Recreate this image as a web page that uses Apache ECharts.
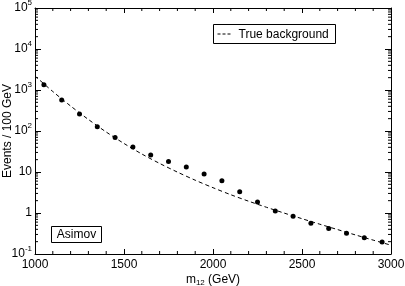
<!DOCTYPE html>
<html>
<head>
<meta charset="utf-8">
<script src="https://cdn.jsdelivr.net/npm/echarts@6/dist/echarts.min.js"></script>
<style>html,body{margin:0;padding:0;background:#fff}#c{width:405px;height:286px}</style>
</head>
<body>
<div id="c"></div>
<script>
// Asimov pseudo-data points (m12 bin centers, events / 100 GeV)
var pointMass = [1050,1150,1250,1350,1450,1550,1650,1750,1850,1950,2050,2150,2250,2350,2450,2550,2650,2750,2850,2950];
var pointEvents = [1350,570,260,127,69,41,26,18,13.2,8.9,6.1,3.3,1.85,1.12,0.83,0.56,0.42,0.32,0.25,0.196];
// True background curve
var bgMass = [1000,1100,1200,1300,1400,1500,1600,1700,1800,1900,2000,2100,2200,2300,2400,2500,2600,2700,2800,2900,3000];
var bgEvents = [2190,919,407,191,94.5,49.6,27.5,16.2,9.95,6.31,4.14,2.79,1.94,1.38,0.995,0.726,0.533,0.394,0.292,0.218,0.164];
// Y tick labels (exponent -> label)
var yTickExp = [-1,0,1,2,3,4,5];
var yTickLabels = ['{b|10}{s|-1}','{b|1}','{b|10}','{b|10}{s|2}','{b|10}{s|3}','{b|10}{s|4}','{b|10}{s|5}'];
var legendLabel = 'True background';
var boxLabel = 'Asimov';

var FONT = 'Liberation Sans, Arial, sans-serif';
var minorY = [];
for (var e = -1; e < 5; e++) for (var k = 2; k <= 9; k++) minorY.push([1000, k * Math.pow(10, e)]);
var minorX = [];
for (var m = 1100; m < 3000; m += 100) if (m % 500 !== 0) minorX.push([m, 1]);

var chart = echarts.init(document.getElementById('c'), null, {renderer: 'canvas'});
var xBase = {
  type: 'value', min: 1000, max: 3000, interval: 500,
  axisLine: {show: true, lineStyle: {color: '#000', width: 1}},
  axisTick: {show: true, inside: true, length: 5, lineStyle: {color: '#000'}},
  splitLine: {show: false}
};
var yBase = {
  type: 'log', logBase: 10, min: 0.1, max: 100000, splitNumber: 6,
  axisLine: {show: true, lineStyle: {color: '#000', width: 1}},
  axisTick: {show: true, inside: true, length: 6, lineStyle: {color: '#000'}},
  splitLine: {show: false}
};
function tickLine(x1, y1, x2, y2) {
  return {type: 'line', shape: {x1: x1, y1: y1, x2: x2, y2: y2}, style: {stroke: '#000', lineWidth: 1}};
}
chart.setOption({
  animation: false,
  backgroundColor: '#fff',
  grid: {left: 35, right: 14, top: 8, bottom: 32, containLabel: false, outerBoundsMode: 'none'},
  graphic: [
    {type: 'group', left: 51, top: 226, children: [
      {type: 'rect', shape: {x: 0, y: 0, width: 50, height: 16}, style: {fill: '#fff', stroke: '#000', lineWidth: 1}},
      {type: 'text', x: 25, y: 8, style: {text: boxLabel, fontFamily: FONT, fontSize: 12, fill: '#000', align: 'center', verticalAlign: 'middle'}}
    ]},
    {type: 'group', left: 213, top: 24, children: [
      {type: 'rect', shape: {x: 0, y: 0, width: 122, height: 19}, style: {fill: '#fff', stroke: '#000', lineWidth: 1}},
      {type: 'line', shape: {x1: 4, y1: 9.5, x2: 19, y2: 9.5}, style: {stroke: '#000', lineWidth: 1, lineDash: [3, 2]}},
      {type: 'text', x: 25, y: 10, style: {text: legendLabel, fontFamily: FONT, fontSize: 12, fill: '#000', align: 'left', verticalAlign: 'middle'}}
    ]}
  ],
  xAxis: [
    Object.assign({}, xBase, {
      position: 'bottom',
      axisLabel: {show: true, color: '#000', fontFamily: FONT, fontSize: 12, margin: 5,
        formatter: function (v) { return String(v); }},
      name: '{a|m}{s|12}{a| (GeV)}', nameLocation: 'middle', nameGap: 19, nameMoveOverlap: false,
      nameTextStyle: {rich: {
        a: {fontFamily: FONT, fontSize: 12, color: '#000', lineHeight: 14},
        s: {fontFamily: FONT, fontSize: 8, color: '#000', lineHeight: 14, padding: [6, 0, 0, 0]}
      }}
    }),
    Object.assign({}, xBase, {position: 'top', axisLabel: {show: false}})
  ],
  yAxis: [
    Object.assign({}, yBase, {
      position: 'left',
      axisLabel: {
        show: true, margin: 3,
        formatter: function (v) {
          var ex = Math.round(Math.log10(v));
          var i = yTickExp.indexOf(ex);
          return i >= 0 ? yTickLabels[i] : '';
        },
        rich: {
          b: {fontFamily: FONT, fontSize: 12, color: '#000'},
          s: {fontFamily: FONT, fontSize: 8, color: '#000', padding: [0, 0, 10, 0]}
        }
      },
      name: 'Events / 100 GeV', nameLocation: 'middle', nameGap: 21, nameMoveOverlap: false,
      nameTextStyle: {fontFamily: FONT, fontSize: 12, color: '#000'}
    }),
    Object.assign({}, yBase, {position: 'right', axisLabel: {show: false}})
  ],
  series: [
    {
      name: legendLabel, type: 'line', smooth: 0.3,
      data: bgMass.map(function (m, i) { return [m, bgEvents[i]]; }),
      showSymbol: false, symbol: 'none',
      lineStyle: {color: '#000', width: 1, type: [4, 3]},
      itemStyle: {color: '#000'}, z: 3
    },
    {
      name: boxLabel, type: 'scatter', symbol: 'circle', symbolSize: 5,
      data: pointMass.map(function (m, i) { return [m, pointEvents[i]]; }),
      itemStyle: {color: '#000', opacity: 1}, z: 4
    },
    {
      name: 'minorY', type: 'custom', silent: true, clip: false,
      data: minorY,
      renderItem: function (params, api) {
        var l = api.coord([1000, api.value(1)]);
        var r = api.coord([3000, api.value(1)]);
        return {type: 'group', children: [
          tickLine(l[0], l[1], l[0] + 3, l[1]),
          tickLine(r[0], r[1], r[0] - 3, r[1])
        ]};
      }
    },
    {
      name: 'minorX', type: 'custom', silent: true, clip: false,
      data: minorX,
      renderItem: function (params, api) {
        var b = api.coord([api.value(0), 0.1]);
        var t = api.coord([api.value(0), 100000]);
        return {type: 'group', children: [
          tickLine(b[0], b[1], b[0], b[1] - 3),
          tickLine(t[0], t[1], t[0], t[1] + 3)
        ]};
      }
    }
  ]
});
</script>
</body>
</html>
